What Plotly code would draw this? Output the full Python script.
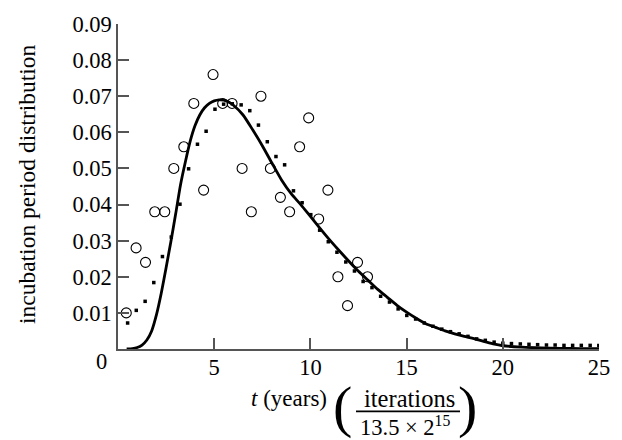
import plotly.graph_objects as go

# ---------------- data ----------------
circle_x = [0.43, 0.94, 1.43, 1.91, 2.43, 2.90, 3.42, 3.94, 4.45, 4.94, 5.44, 5.93, 6.45,
            6.93, 7.43, 7.92, 8.44, 8.92, 9.44, 9.91, 10.43, 10.91, 11.43, 11.93, 12.45, 12.97]
circle_y = [0.010, 0.028, 0.024, 0.038, 0.038, 0.050, 0.056, 0.068, 0.044, 0.076, 0.068, 0.068, 0.050,
            0.038, 0.070, 0.050, 0.042, 0.038, 0.056, 0.064, 0.036, 0.044, 0.020, 0.012, 0.024, 0.020]

dot_x = [0.50, 0.95, 1.41, 1.86, 2.31, 2.77, 3.22, 3.67, 4.13, 4.58, 5.04, 5.49, 5.94, 6.40,
         6.85, 7.30, 7.76, 8.21, 8.66, 9.12, 9.57, 10.02, 10.48, 10.93, 11.38, 11.84, 12.29,
         12.74, 13.20, 13.65, 14.11, 14.56, 15.01, 15.47, 15.92, 16.37, 16.83, 17.28, 17.73,
         18.19, 18.64, 19.09, 19.55, 20.00, 20.45, 20.91, 21.36, 21.81, 22.27, 22.72, 23.18,
         23.63, 24.08, 24.54, 24.99]
dot_y = [0.0072, 0.0107, 0.0132, 0.0184, 0.0256, 0.0310, 0.0401, 0.0499, 0.0567, 0.0603,
         0.0664, 0.0678, 0.0679, 0.0676, 0.0660, 0.0620, 0.0574, 0.0533, 0.0510, 0.0438,
         0.0405, 0.0372, 0.0329, 0.0297, 0.0268, 0.0241, 0.0216, 0.0187, 0.0170, 0.0146,
         0.0130, 0.0111, 0.0093, 0.0083, 0.0072, 0.0063, 0.0055, 0.0048, 0.0042, 0.0035,
         0.0028, 0.0024, 0.0019, 0.0016, 0.0015, 0.0014, 0.0013, 0.0012, 0.0011, 0.0011,
         0.0010, 0.0010, 0.0010, 0.0010, 0.0010]

curve_x = [0.45, 0.75, 1.0, 1.25, 1.5, 1.75, 2.0, 2.25, 2.5, 2.75, 3.0, 3.25, 3.5, 3.75, 4.0,
           4.25, 4.5, 4.75, 5.0, 5.25, 5.5, 5.75, 6.0, 6.5, 7.0, 7.5, 8.0, 8.5, 9.0, 9.5, 10.0,
           10.5, 11.0, 11.5, 12.0, 12.5, 13.0, 13.5, 14.0, 14.5, 15.0, 15.5, 16.0, 16.5, 17.0,
           17.5, 18.0, 18.5, 19.0, 19.5, 20.0, 21.0, 22.0, 23.0, 24.0, 25.0]
curve_y = [0.0, 0.0001, 0.0004, 0.0011, 0.0025, 0.0050, 0.0095, 0.0155, 0.0225, 0.0298,
           0.0375, 0.0455, 0.0518, 0.0575, 0.0618, 0.0648, 0.0668, 0.0680, 0.0687, 0.0690,
           0.0689, 0.0684, 0.0675, 0.0648, 0.0607, 0.0563, 0.0515, 0.0468, 0.0430, 0.0400,
           0.0367, 0.0334, 0.0302, 0.0272, 0.0243, 0.0215, 0.0190, 0.0165, 0.0143, 0.0121,
           0.0102, 0.0085, 0.0070, 0.0060, 0.0050, 0.0042, 0.0035, 0.0029, 0.0021, 0.0014,
           0.0009, 0.0005, 0.0003, 0.0002, 0.0001, 0.0001]

x_ticks = [5, 10, 15, 20, 25]
y_ticks = [0.01, 0.02, 0.03, 0.04, 0.05, 0.06, 0.07, 0.08, 0.09]
y_ticktext = ["0.01", "0.02", "0.03", "0.04", "0.05", "0.06", "0.07", "0.08", "0.09"]

# ---------------- layout helpers ----------------
W, H = 622, 440
L, R, T, B = 118, 23, 17, 91
PW, PH = W - L - R, H - T - B


def px(xp):
    return (xp - L) / PW


def py(yp):
    return (H - B - yp) / PH


FONT = "Liberation Serif, Times New Roman, serif"
AX = "#555555"
FS = 22.5

fig = go.Figure()
fig.add_trace(go.Scatter(x=curve_x, y=curve_y, mode="lines", line=dict(color="black", width=2.8, shape="spline", smoothing=0.6), showlegend=False))
fig.add_trace(go.Scatter(x=dot_x, y=dot_y, mode="markers", marker=dict(symbol="square", size=3.5, color="black", line=dict(width=0)), showlegend=False))
fig.add_trace(go.Scatter(x=circle_x, y=circle_y, mode="markers", marker=dict(symbol="circle-open", size=10, color="black", line=dict(width=1.1, color="black")), showlegend=False))

fig.update_layout(
    width=W, height=H,
    margin=dict(l=L, r=R, t=T, b=B, pad=0),
    paper_bgcolor="white", plot_bgcolor="white",
    font=dict(family=FONT, size=FS, color="black"),
    xaxis=dict(range=[0, 25], tickvals=x_ticks, ticks="inside", ticklen=11, tickwidth=1.5,
               tickcolor=AX, showline=True, linecolor=AX, linewidth=1.5, showgrid=False,
               zeroline=False, ticklabelstandoff=-3, tickfont=dict(family=FONT, size=FS)),
    yaxis=dict(range=[0, 0.09], tickvals=y_ticks, ticktext=y_ticktext, ticks="inside",
               ticklen=11, tickwidth=1.5, tickcolor=AX, showline=True, linecolor=AX,
               linewidth=1.5, showgrid=False, zeroline=False, tickfont=dict(family=FONT, size=FS)),
)

ann = []
# y-axis title
ann.append(dict(text="incubation period distribution", textangle=-90, x=px(27), y=py(180.5),
                xref="paper", yref="paper", xanchor="center", yanchor="middle",
                showarrow=False, font=dict(family=FONT, size=23.5)))
# shared zero label
ann.append(dict(text="0", x=px(109), y=py(362), xref="paper", yref="paper",
                xanchor="right", yanchor="middle", showarrow=False, font=dict(family=FONT, size=FS)))
# x title pieces
ann.append(dict(text="<i>t</i> (years)", x=px(289), y=py(400), xref="paper", yref="paper",
                xanchor="center", yanchor="middle", showarrow=False, font=dict(family=FONT, size=23)))
ann.append(dict(text="iterations", x=px(409), y=py(400), xref="paper", yref="paper",
                xanchor="center", yanchor="middle", showarrow=False, font=dict(family=FONT, size=24.5)))
ann.append(dict(text="13.5 × 2<sup>15</sup>", x=px(405), y=py(428), xref="paper", yref="paper",
                xanchor="center", yanchor="middle", showarrow=False, font=dict(family=FONT, size=22.5)))
ann.append(dict(text="(", x=px(342.5), y=py(407.5), xref="paper", yref="paper",
                xanchor="center", yanchor="middle", showarrow=False, font=dict(family=FONT, size=58)))
ann.append(dict(text=")", x=px(467.5), y=py(407.5), xref="paper", yref="paper",
                xanchor="center", yanchor="middle", showarrow=False, font=dict(family=FONT, size=58)))
fig.update_layout(annotations=ann)

fig.add_shape(type="line", xref="paper", yref="paper", x0=px(356), x1=px(460), y0=py(412.7), y1=py(412.7),
              line=dict(color="black", width=1.6))

fig.write_html("out.html")
